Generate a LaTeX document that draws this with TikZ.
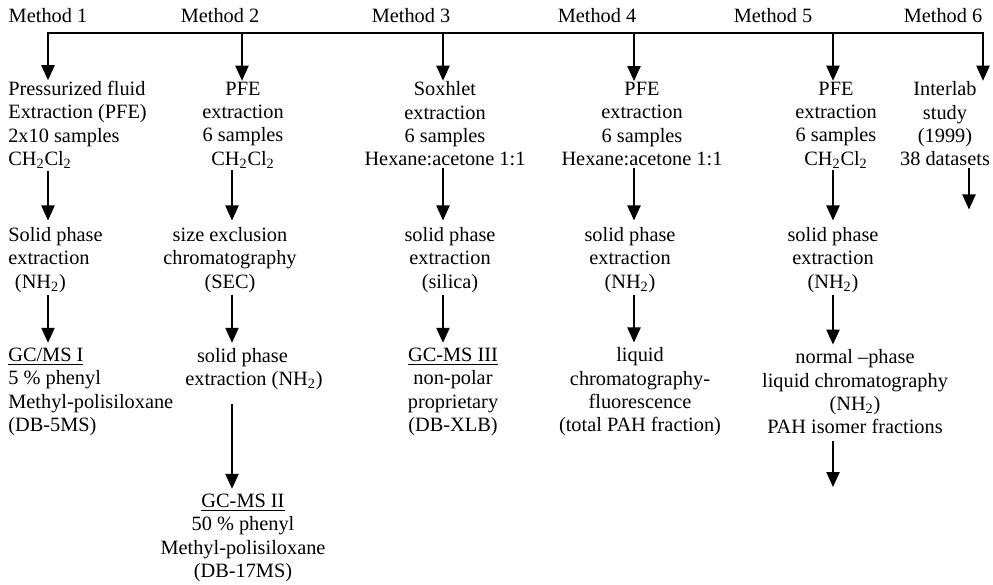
\documentclass[tikz,border=0pt]{standalone}
\usepackage{fontspec}
\setmainfont{Liberation Serif}
\usetikzlibrary{arrows.meta}

\begin{document}
\begin{tikzpicture}[
x=0.6pt, y=-0.6pt,
font=\fontsize{12.2}{14}\selectfont,
txt/.style={inner sep=0pt, align=center},
ltxt/.style={inner sep=0pt, align=left, anchor=west},
arr/.style={-{Triangle[length=9pt,width=8pt]}, line width=0.8pt},
bus/.style={line width=0.8pt, line cap=rect}]
    \useasboundingbox (0,0) rectangle (993,585);

    % Method labels
    \node (m1) at (48,16) {Method 1};
    \node (m2) at (220,16) {Method 2};
    \node (m3) at (411,16) {Method 3};
    \node (m4) at (597,16) {Method 4};
    \node (m5) at (773,16) {Method 5};
    \node (m6) at (943,16) {Method 6};

    % Draw top line
    \draw
      (48,33) coordinate (b1)
      (242,33) coordinate (b2)
      (443,33) coordinate (b3)
      (634,33) coordinate (b4)
      (833,33) coordinate (b5)
      (983,33) coordinate (b6)
      (232,33) coordinate (k2)
      (969,33) coordinate (k6)
      (833,487) coordinate (end5);
    \draw[bus] (b1) -- (b6);

    % Extraction
    \node[ltxt] (p1) at (8,125) {Pressurized fluid\\Extraction (PFE)\\2x10 samples\\CH\textsubscript{2}Cl\textsubscript{2}};
    \node[txt] (p2) at (243,125) {PFE\\extraction\\6 samples\\CH\textsubscript{2}Cl\textsubscript{2}};
    \node[txt] (p3) at (445,124) {Soxhlet\\extraction\\6 samples\\Hexane:acetone 1:1};
    \node[txt] (p4) at (642,124) {PFE\\extraction\\6 samples\\Hexane:acetone 1:1};
    \node[txt] (p5) at (836,125) {PFE\\extraction\\6 samples\\CH\textsubscript{2}Cl\textsubscript{2}};
    \node[txt] (p6) at (945,124) {Interlab\\study\\(1999)\\38 datasets};

    % Clean-up
    \node[ltxt] (s1) at (8,260) {Solid phase\\extraction\\\hspace*{4pt}(NH\textsubscript{2})};
    \node[txt] (s2) at (230,260) {size exclusion\\chromatography\\(SEC)};
    \node[txt] (s3) at (450,260) {solid phase\\extraction\\(silica)};
    \node[txt] (s4) at (630,260) {solid phase\\extraction\\(NH\textsubscript{2})};
    \node[txt] (s5) at (833,260) {solid phase\\extraction\\(NH\textsubscript{2})};

    % Separation
    \node[ltxt] (g1) at (8,392) {\underline{GC/MS I}\\5 \% phenyl\\Methyl-polisiloxane\\(DB-5MS)};
    \node[ltxt] (e2) at (185,369) {\hspace*{7pt}solid phase\\extraction (NH\textsubscript{2})};
    \node[txt] (g3) at (453,392) {\underline{GC-MS III}\\non-polar\\proprietary\\(DB-XLB)};
    \node[txt] (l4) at (640,392) {liquid\\chromatography-\\fluorescence\\(total PAH fraction)};
    \node[txt] (n5) at (855,392) {normal --phase\\liquid chromatography\\(NH\textsubscript{2})\\PAH isomer fractions};
    \node[txt] (g2) at (243,538) {\underline{GC-MS II}\\50 \% phenyl\\Methyl-polisiloxane\\(DB-17MS)};

    % Arrows
    \foreach \i in {1,...,6}
        \draw[arr, shorten >=0.5pt] (b\i) -- (p\i.north -| b\i);

    \draw[arr, shorten <=1pt, shorten >=4pt] (p1.south -| b1) -- (s1.north -| b1);
    \draw[arr, shorten <=1pt, shorten >=4pt] (p2.south -| k2) -- (s2.north -| k2);
    \draw[arr, shorten <=1pt, shorten >=4pt] (p3.south -| b3) -- (s3.north -| b3);
    \draw[arr, shorten <=1pt, shorten >=4pt] (p4.south -| b4) -- (s4.north -| b4);
    \draw[arr, shorten <=1pt, shorten >=4pt] (p5.south -| b5) -- (s5.north -| b5);
    \draw[arr, shorten <=1pt] (p6.south -| k6) -- ++(0,43);

    \draw[arr, shorten <=1pt, shorten >=3pt] (s1.south -| b1) -- (g1.north -| b1);
    \draw[arr, shorten <=1pt, shorten >=3pt] (s2.south -| k2) -- (e2.north -| k2);
    \draw[arr, shorten <=1pt, shorten >=3pt] (s3.south -| b3) -- (g3.north -| b3);
    \draw[arr, shorten <=1pt, shorten >=3pt] (s4.south -| b4) -- (l4.north -| b4);
    \draw[arr, shorten <=1pt, shorten >=3pt] (s5.south -| b5) -- (n5.north -| b5);

    \draw[arr, shorten <=8pt, shorten >=3pt] (e2.south -| k2) -- (g2.north -| k2);
    \draw[arr, shorten <=4pt] (n5.south -| b5) -- (end5);

\end{tikzpicture}
\end{document}
